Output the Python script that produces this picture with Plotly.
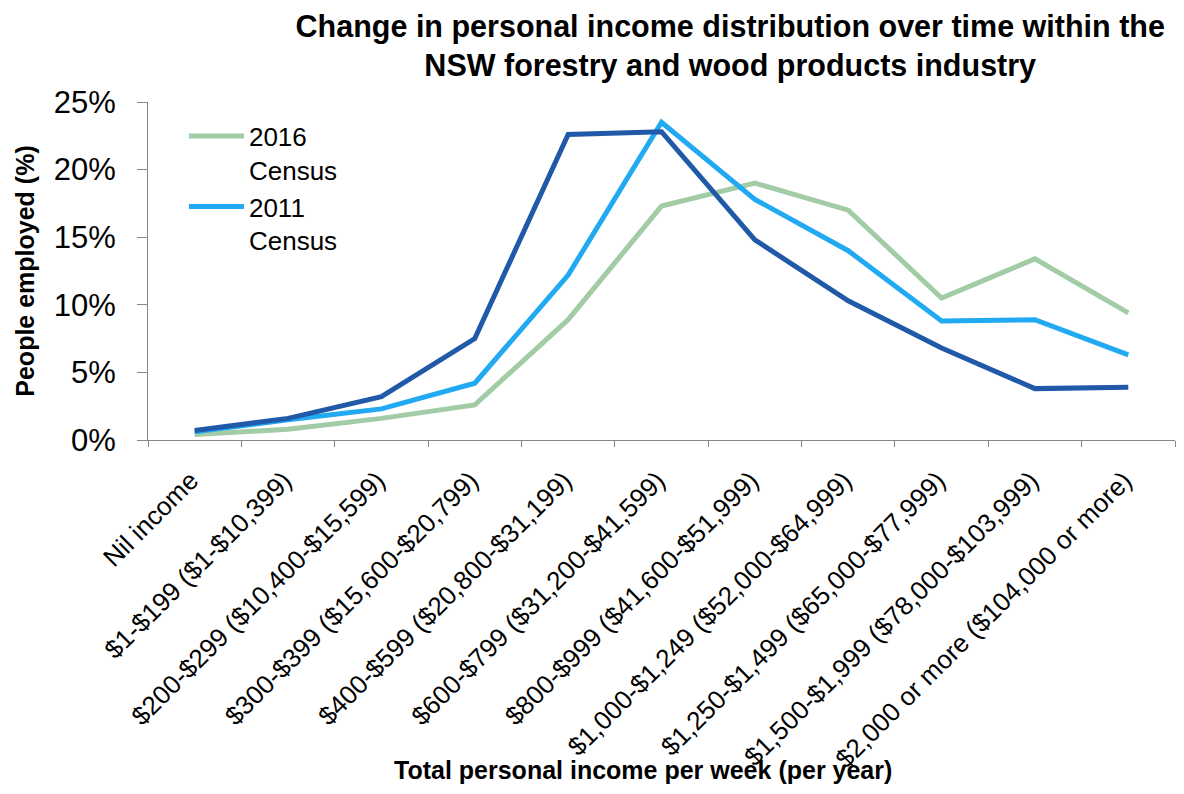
import plotly.graph_objects as go

categories = [
    "Nil income",
    "$1-$199 ($1-$10,399)",
    "$200-$299 ($10,400-$15,599)",
    "$300-$399 ($15,600-$20,799)",
    "$400-$599 ($20,800-$31,199)",
    "$600-$799 ($31,200-$41,599)",
    "$800-$999 ($41,600-$51,999)",
    "$1,000-$1,249 ($52,000-$64,999)",
    "$1,250-$1,499 ($65,000-$77,999)",
    "$1,500-$1,999 ($78,000-$103,999)",
    "$2,000 or more ($104,000 or more)",
]

census_2016 = [0.4, 0.8, 1.6, 2.6, 8.9, 17.3, 19.0, 17.0, 10.5, 13.4, 9.4]
census_2011 = [0.6, 1.5, 2.3, 4.2, 12.2, 23.5, 17.8, 14.0, 8.8, 8.9, 6.3]
census_2006 = [0.7, 1.6, 3.2, 7.5, 22.6, 22.8, 14.8, 10.3, 6.8, 3.8, 3.9]

y_ticks = [0, 5, 10, 15, 20, 25]
y_tick_labels = ["0%", "5%", "10%", "15%", "20%", "25%"]

x_title = "<b>Total personal income per week (per year)</b>"

fig = go.Figure()
fig.add_trace(go.Scatter(
    x=categories, y=census_2016, mode="lines", name="2016<br>Census",
    line=dict(color="#a2cca5", width=5),
))
fig.add_trace(go.Scatter(
    x=categories, y=census_2011, mode="lines", name="2011<br>Census",
    line=dict(color="#21a9f2", width=5),
))
fig.add_trace(go.Scatter(
    x=categories, y=census_2006, mode="lines", name="2006<br>Census",
    line=dict(color="#2159a9", width=5), showlegend=False,
))

fig.update_layout(
    width=1184, height=794,
    paper_bgcolor="white", plot_bgcolor="white",
    margin=dict(l=140, r=17, t=94, b=362, autoexpand=False),
    font=dict(family="Liberation Sans, Arial, sans-serif", color="black"),
    title=dict(
        text="<b>Change in personal income distribution over time within the<br>NSW forestry and wood products industry</b>",
        font=dict(family="Liberation Sans Narrow, Arial Narrow, Liberation Sans, Arial, sans-serif", size=30.5, color="black"),
        x=0.61, xanchor="center", y=0.964, yanchor="top",
    ),
    legend=dict(
        x=0.035, y=0.969, xanchor="left", yanchor="top",
        font=dict(size=26, color="black"), bgcolor="rgba(0,0,0,0)",
        tracegroupgap=0, valign="top", itemwidth=55,
    ),
    showlegend=True,
    annotations=[dict(
        text=x_title, xref="paper", yref="paper", x=0.482, y=-0.976,
        xanchor="center", yanchor="middle", showarrow=False,
        font=dict(size=25, color="black"),
    )],
)

fig.update_xaxes(
    type="category", range=[-0.5, 10.5], tickangle=-45, tickson="boundaries",
    ticks="outside", ticklen=6, tickcolor="#888888",
    showline=True, linecolor="#888888", linewidth=1,
    showgrid=False, tickfont=dict(size=26, color="black"),
    ticklabelstandoff=14, ticklabelshift=-4, automargin=False,
)
fig.update_yaxes(
    range=[0, 25], tickvals=y_ticks, ticktext=y_tick_labels,
    ticks="outside", ticklen=10, tickcolor="#888888",
    showline=True, linecolor="#888888", linewidth=1,
    showgrid=False, zeroline=False, tickfont=dict(size=31, color="black"),
    ticklabelstandoff=15, automargin=False,
    title=dict(text="<b>People employed (%)</b>", font=dict(size=25, color="black"), standoff=12),
)

fig.write_html("out.html")
